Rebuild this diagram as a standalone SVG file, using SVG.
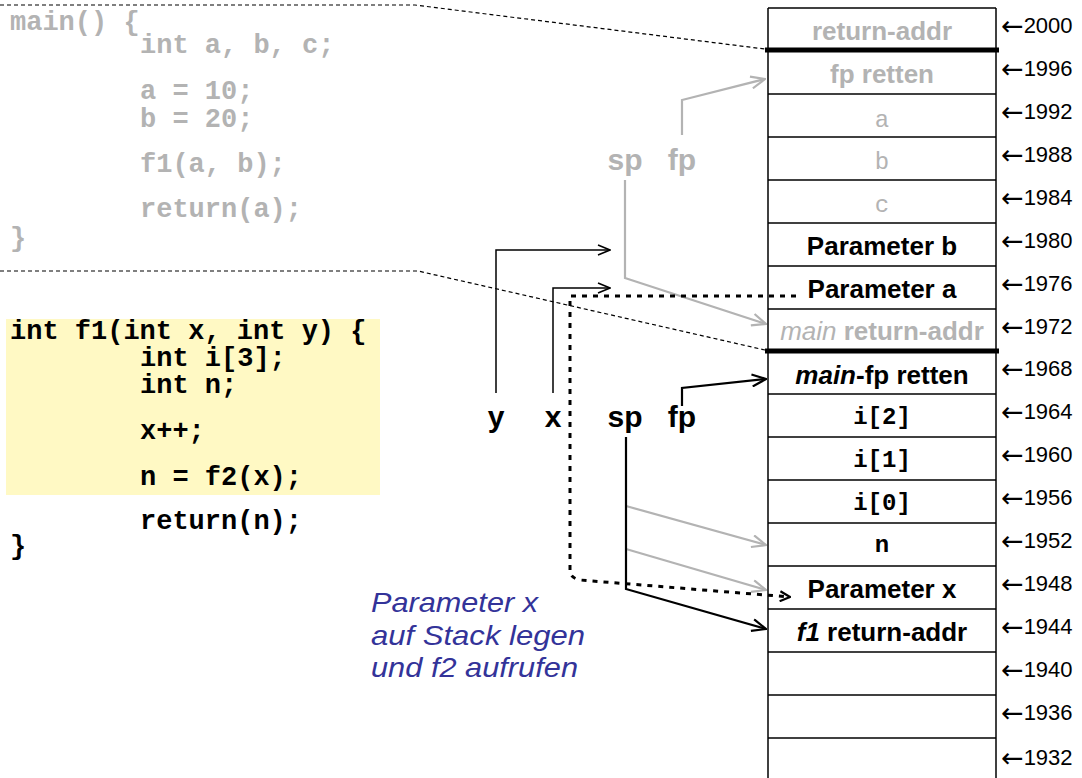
<svg xmlns="http://www.w3.org/2000/svg" width="1082" height="778" viewBox="0 0 1082 778">
  <style>
    .code { font-family: "Liberation Mono", "Courier New", monospace; font-size: 27px; font-weight: bold; }
    .gray { fill: #b3b3b3; }
    .blk { fill: #000; }
    .lbl { font-family: "Liberation Sans", Arial, sans-serif; font-size: 26px; font-weight: bold; text-anchor: middle; }
    .mono { font-family: "Liberation Mono", "Courier New", monospace; font-size: 24px; text-anchor: middle; }
    .reg { font-family: "Liberation Sans", Arial, sans-serif; font-size: 30px; font-weight: bold; text-anchor: middle; }
    .addr { font-family: "Liberation Sans", Arial, sans-serif; font-size: 22px; fill: #000; }
    .arr { font-family: "DejaVu Sans", sans-serif; font-size: 27px; }
    .note { font-family: "Liberation Sans", Arial, sans-serif; font-size: 28px; font-style: italic; fill: #333399; }
    .cell { stroke: #000; stroke-width: 1.5; fill: none; }
    .frame { stroke: #000; stroke-width: 5; }
    .sep { stroke: #000; stroke-width: 1.2; stroke-dasharray: 4 3; fill: none; }
    .gline { stroke: #b3b3b3; stroke-width: 2.2; fill: none; }
    .bline { stroke: #000; stroke-width: 1.5; fill: none; }
    .bthick { stroke: #000; stroke-width: 2.2; fill: none; }
    .dots { stroke: #000; stroke-width: 3; stroke-dasharray: 5 6; fill: none; }
  </style>
  <defs>
    <marker id="ahGray" viewBox="0 0 16 14" refX="15" refY="7" markerWidth="16" markerHeight="14" markerUnits="userSpaceOnUse" orient="auto">
      <path d="M1,1 L15,7 L1,13" fill="none" stroke="#b3b3b3" stroke-width="2.2"/>
    </marker>
    <marker id="ahBlack" viewBox="0 0 16 14" refX="15" refY="7" markerWidth="16" markerHeight="14" markerUnits="userSpaceOnUse" orient="auto">
      <path d="M1,1 L15,7 L1,13" fill="none" stroke="#000" stroke-width="2.2"/>
    </marker>
    <marker id="ahThin" viewBox="0 0 14 12" refX="13" refY="6" markerWidth="14" markerHeight="12" markerUnits="userSpaceOnUse" orient="auto">
      <path d="M1,1 L13,6 L1,11" fill="none" stroke="#000" stroke-width="1.5"/>
    </marker>
    <marker id="ahSmall" viewBox="0 0 12 12" refX="11" refY="6" markerWidth="12" markerHeight="12" markerUnits="userSpaceOnUse" orient="auto">
      <path d="M1,1 L11,6 L1,11" fill="none" stroke="#000" stroke-width="2.2"/>
    </marker>
  </defs>

  <rect width="1082" height="778" fill="#fff"/>

  <!-- main() source -->
  <g id="code-main" class="code gray">
    <text x="10" y="30">main() {</text>
    <text x="140" y="53">int a, b, c;</text>
    <text x="140" y="99">a = 10;</text>
    <text x="140" y="127">b = 20;</text>
    <text x="140" y="172">f1(a, b);</text>
    <text x="140" y="217">return(a);</text>
    <text x="10" y="246">}</text>
  </g>

  <!-- f1() source with highlighted part -->
  <g id="code-f1">
    <rect x="6" y="319" width="374" height="176" fill="#fff9c4"/>
    <g class="code blk">
      <text x="10" y="339">int f1(int x, int y) {</text>
      <text x="140" y="366">int i[3];</text>
      <text x="140" y="393">int n;</text>
      <text x="140" y="439">x++;</text>
      <text x="140" y="485">n = f2(x);</text>
      <text x="140" y="529">return(n);</text>
      <text x="10" y="554">}</text>
    </g>
  </g>

  <!-- stack frame -->
  <g id="stack">
    <line class="cell" x1="768" y1="8" x2="768" y2="778"/>
    <line class="cell" x1="996" y1="8" x2="996" y2="778"/>
    <line class="cell" x1="768" y1="8" x2="996" y2="8"/>
    <line class="cell" x1="768" y1="94" x2="996" y2="94"/>
    <line class="cell" x1="768" y1="137" x2="996" y2="137"/>
    <line class="cell" x1="768" y1="180" x2="996" y2="180"/>
    <line class="cell" x1="768" y1="223" x2="996" y2="223"/>
    <line class="cell" x1="768" y1="266" x2="996" y2="266"/>
    <line class="cell" x1="768" y1="309" x2="996" y2="309"/>
    <line class="cell" x1="768" y1="394" x2="996" y2="394"/>
    <line class="cell" x1="768" y1="437" x2="996" y2="437"/>
    <line class="cell" x1="768" y1="480" x2="996" y2="480"/>
    <line class="cell" x1="768" y1="523" x2="996" y2="523"/>
    <line class="cell" x1="768" y1="566" x2="996" y2="566"/>
    <line class="cell" x1="768" y1="609" x2="996" y2="609"/>
    <line class="cell" x1="768" y1="652" x2="996" y2="652"/>
    <line class="cell" x1="768" y1="695" x2="996" y2="695"/>
    <line class="cell" x1="768" y1="738" x2="996" y2="738"/>
    <line class="frame" x1="765" y1="50" x2="999" y2="50"/>
    <line class="frame" x1="765" y1="351" x2="999" y2="351"/>
  </g>

  <g id="cell-2000"><text class="lbl gray" x="882" y="40">return-addr</text></g>
  <g id="cell-1996"><text class="lbl gray" x="882" y="83">fp retten</text></g>
  <g id="cell-1992"><text class="mono gray" x="882" y="127">a</text></g>
  <g id="cell-1988"><text class="mono gray" x="882" y="169">b</text></g>
  <g id="cell-1984"><text class="mono gray" x="882" y="212">c</text></g>
  <g id="cell-1980"><text class="lbl blk" x="882" y="255">Parameter b</text></g>
  <g id="cell-1976"><text class="lbl blk" x="882" y="298">Parameter a</text></g>
  <g id="cell-1972"><text class="lbl gray" x="882" y="340"><tspan font-style="italic" font-weight="normal">main</tspan> return-addr</text></g>
  <g id="cell-1968"><text class="lbl blk" x="882" y="384"><tspan font-style="italic">main</tspan>-fp retten</text></g>
  <g id="cell-1964"><text class="mono blk" font-weight="bold" x="882" y="424">i[2]</text></g>
  <g id="cell-1960"><text class="mono blk" font-weight="bold" x="882" y="467">i[1]</text></g>
  <g id="cell-1956"><text class="mono blk" font-weight="bold" x="882" y="510">i[0]</text></g>
  <g id="cell-1952"><text class="mono blk" font-weight="bold" x="882" y="552">n</text></g>
  <g id="cell-1948"><text class="lbl blk" x="882" y="598">Parameter x</text></g>
  <g id="cell-1944"><text class="lbl blk" x="882" y="641"><tspan font-style="italic">f1</tspan> return-addr</text></g>

  <!-- addresses -->
  <g id="addresses" class="addr">
    <text x="1001" y="33"><tspan class="arr" dy="2">←</tspan><tspan dy="-2">2000</tspan></text>
    <text x="1001" y="76"><tspan class="arr" dy="2">←</tspan><tspan dy="-2">1996</tspan></text>
    <text x="1001" y="119"><tspan class="arr" dy="2">←</tspan><tspan dy="-2">1992</tspan></text>
    <text x="1001" y="162"><tspan class="arr" dy="2">←</tspan><tspan dy="-2">1988</tspan></text>
    <text x="1001" y="205"><tspan class="arr" dy="2">←</tspan><tspan dy="-2">1984</tspan></text>
    <text x="1001" y="248"><tspan class="arr" dy="2">←</tspan><tspan dy="-2">1980</tspan></text>
    <text x="1001" y="291"><tspan class="arr" dy="2">←</tspan><tspan dy="-2">1976</tspan></text>
    <text x="1001" y="334"><tspan class="arr" dy="2">←</tspan><tspan dy="-2">1972</tspan></text>
    <text x="1001" y="376"><tspan class="arr" dy="2">←</tspan><tspan dy="-2">1968</tspan></text>
    <text x="1001" y="419"><tspan class="arr" dy="2">←</tspan><tspan dy="-2">1964</tspan></text>
    <text x="1001" y="462"><tspan class="arr" dy="2">←</tspan><tspan dy="-2">1960</tspan></text>
    <text x="1001" y="505"><tspan class="arr" dy="2">←</tspan><tspan dy="-2">1956</tspan></text>
    <text x="1001" y="548"><tspan class="arr" dy="2">←</tspan><tspan dy="-2">1952</tspan></text>
    <text x="1001" y="591"><tspan class="arr" dy="2">←</tspan><tspan dy="-2">1948</tspan></text>
    <text x="1001" y="634"><tspan class="arr" dy="2">←</tspan><tspan dy="-2">1944</tspan></text>
    <text x="1001" y="677"><tspan class="arr" dy="2">←</tspan><tspan dy="-2">1940</tspan></text>
    <text x="1001" y="720"><tspan class="arr" dy="2">←</tspan><tspan dy="-2">1936</tspan></text>
    <text x="1001" y="765"><tspan class="arr" dy="2">←</tspan><tspan dy="-2">1932</tspan></text>
  </g>

  <!-- register labels -->
  <g id="reg-main-sp"><text class="reg gray" x="625" y="170">sp</text></g>
  <g id="reg-main-fp"><text class="reg gray" x="682" y="170">fp</text></g>
  <g id="reg-y"><text class="reg blk" x="496" y="427">y</text></g>
  <g id="reg-x"><text class="reg blk" x="553" y="427">x</text></g>
  <g id="reg-sp"><text class="reg blk" x="625" y="427">sp</text></g>
  <g id="reg-fp"><text class="reg blk" x="682" y="427">fp</text></g>

  <g id="note">
    <text class="note" x="371" y="612" textLength="167" lengthAdjust="spacingAndGlyphs">Parameter x</text>
    <text class="note" x="371" y="645" textLength="214" lengthAdjust="spacingAndGlyphs">auf Stack legen</text>
    <text class="note" x="371" y="677" textLength="207" lengthAdjust="spacingAndGlyphs">und f2 aufrufen</text>
  </g>

  <!-- connectors -->
  <g id="connectors">
    <path class="sep" d="M0,5 L415,5 L765,49"/>
    <path class="sep" d="M0,271 L418,271 L765,350"/>
    <path class="gline" d="M682,135 L682,100 L765,79" marker-end="url(#ahGray)"/>
    <path class="gline" d="M625,180 L625,278 L766,324" marker-end="url(#ahGray)"/>
    <path class="bline" d="M496,393 L496,250 L610,250" marker-end="url(#ahThin)"/>
    <path class="bline" d="M553,393 L553,288 L610,288" marker-end="url(#ahThin)"/>
    <path class="bthick" d="M682,406 L682,388 L766,379" marker-end="url(#ahBlack)"/>
    <path class="dots" d="M796,296 L570,296 L570,572 Q571,578 580,580 L790,597" marker-end="url(#ahSmall)"/>
    <path class="gline" d="M626,506 L766,545" marker-end="url(#ahGray)"/>
    <path class="gline" d="M626,549 L766,590" marker-end="url(#ahGray)"/>
    <path class="bthick" d="M626,437 L626,589 L766,629" marker-end="url(#ahBlack)"/>
  </g>
</svg>
